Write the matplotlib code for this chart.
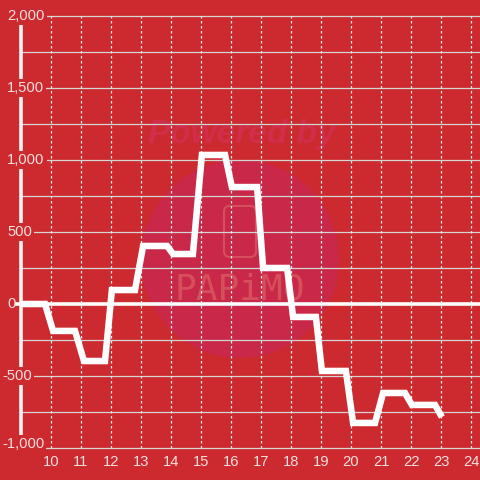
import matplotlib.pyplot as plt
import matplotlib.transforms as mtransforms
from matplotlib.patches import Circle, FancyBboxPatch

# hour of day vs. running value
hours = [9.0, 9.8, 10.07, 10.8, 11.1, 11.8, 12.03, 12.8, 13.07, 13.87,
         14.07, 14.73, 15.03, 15.8, 16.03, 16.87, 17.07, 17.87, 18.07,
         18.83, 19.03, 19.83, 20.07, 20.8, 21.07, 21.8, 22.03, 22.8, 23.03]
values = [0, 0, -187, -187, -396, -396, 97, 97, 403, 403,
          347, 347, 1035, 1035, 812, 812, 250, 250, -90,
          -90, -465, -465, -826, -826, -618, -618, -701, -701, -785]

x_ticks = list(range(10, 25))
y_grid = list(range(-1000, 2001, 250))
y_labels = [2000, 1500, 1000, 500, 0, -500, -1000]

bg = '#cc2a2f'
txt = '#f5e0e0'

fig = plt.figure(figsize=(4.8, 4.8), dpi=100, facecolor=bg)
ax = fig.add_axes([21 / 480, 32 / 480, 459 / 480, 432 / 480])
ax.set_facecolor('none')
ax.set_xlim(9, 24.3)
ax.set_ylim(-1000, 2000)
for s in ax.spines.values():
    s.set_visible(False)

# watermark
fig.patches.append(Circle((240 / 480, 1 - 259 / 480), 99 / 480, transform=fig.transFigure,
                          facecolor='#c92848', edgecolor='none', zorder=-2))
fig.patches.append(FancyBboxPatch((224 / 480, 1 - 257 / 480), 32 / 480, 51 / 480,
                                  boxstyle='round,pad=0,rounding_size=0.012',
                                  transform=fig.transFigure, facecolor='none',
                                  edgecolor='#d6505c', lw=1.5, zorder=-1))
fig.text(242 / 480, 1 - 134 / 480, 'Powered by', color='#d02e4a', fontsize=24,
         fontweight='bold', fontstyle='italic', family='Liberation Sans',
         ha='center', va='center', zorder=-1)
fig.text(240 / 480, 1 - 289 / 480, 'PAPiMO', color='#d6505c', fontsize=26,
         family='DejaVu Sans Mono', ha='center', va='center', zorder=-1)

# grid
for v in y_grid:
    if v != 0:
        ax.axhline(v, color='#d4d4d4', lw=0.9, zorder=1, clip_on=False)
for h in x_ticks:
    ax.axvline(h, color='#eeeeee', lw=0.9, ls=(0, (2, 2)), zorder=1)

ax.axvline(9, ymin=11 / 432, ymax=1 - 8 / 432, color='#f2f2f2', lw=2.6,
           zorder=2, clip_on=False)

trans = mtransforms.blended_transform_factory(fig.transFigure, ax.transData)
for v in y_labels:
    x0 = 2 if v < 0 else 7
    off = mtransforms.ScaledTranslation(0, 4 / 100 if v == -1000 else 0,
                                        fig.dpi_scale_trans)
    ax.text(x0 / 480, v, f'{v:,}', transform=trans + off, ha='left', va='center',
            color=txt, fontsize=10.6, family='Liberation Sans', zorder=3,
            clip_on=False,
            bbox=dict(boxstyle='square,pad=0.15', fc=bg, ec='none'))

ax.plot([9 - 4 / 30, 24.3], [0, 0], color='white', lw=2.6, zorder=4, clip_on=False)

ax.plot(hours, values, color='white', lw=4.7, solid_joinstyle='miter',
        solid_capstyle='butt', zorder=5)

ax.set_yticks([])
ax.set_xticks(x_ticks)
ax.set_xticklabels([str(h) for h in x_ticks], family='Liberation Sans')
ax.tick_params(axis='x', length=0, pad=5, labelcolor=txt, labelsize=10.6)

fig.savefig('out.png', dpi=100, facecolor=bg)
